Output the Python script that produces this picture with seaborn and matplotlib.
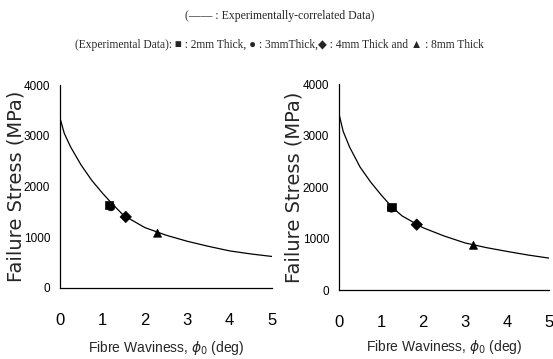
import matplotlib.pyplot as plt
import seaborn as sns
import pandas as pd

# correlated curves
curve_x = [0, 0.1, 0.25, 0.5, 0.75, 1.0, 1.25, 1.5, 2.0, 2.5, 3.0, 3.5, 4.0, 4.5, 5.0]
curve_left = [3350, 3050, 2780, 2420, 2120, 1870, 1640, 1430, 1190, 1040, 920, 820, 730, 670, 620]
curve_right = [3420, 3080, 2780, 2390, 2100, 1850, 1620, 1440, 1210, 1050, 915, 825, 750, 680, 620]

# experimental points
thickness = ['2mm', '3mm', '4mm', '8mm']
pts_left_x = [1.15, 1.2, 1.55, 2.3]
pts_left_y = [1630, 1600, 1400, 1080]
pts_right_x = [1.25, 1.25, 1.85, 3.2]
pts_right_y = [1610, 1590, 1270, 870]

marker_map = {'2mm': 's', '3mm': 'o', '4mm': 'D', '8mm': '^'}

sns.set_style('white')
plt.rcParams['font.family'] = ['Liberation Sans', 'DejaVu Sans']

fig = plt.figure(figsize=(5.53, 3.59), dpi=100)
ax1 = fig.add_axes([0.1085, 0.198, 0.3835, 0.565])
ax2 = fig.add_axes([0.613, 0.192, 0.380, 0.574])

for ax, cy, px, py in [(ax1, curve_left, pts_left_x, pts_left_y),
                       (ax2, curve_right, pts_right_x, pts_right_y)]:
    sns.lineplot(x=curve_x, y=cy, ax=ax, color='black', lw=0.9)
    df = pd.DataFrame({'x': px, 'y': py, 't': thickness})
    sns.scatterplot(data=df, x='x', y='y', style='t', markers=marker_map,
                    color='black', s=34, edgecolor='black', ax=ax, legend=False, zorder=3)
    ax.set_xlim(0, 5)
    ax.set_ylim(0, 4000)
    ax.set_xticks([0, 1, 2, 3, 4, 5])
    ax.set_yticks([0, 1000, 2000, 3000, 4000])
    sns.despine(ax=ax)
    for s in ['left', 'bottom']:
        ax.spines[s].set_color('black')
        ax.spines[s].set_linewidth(0.9)
    ax.tick_params(axis='x', direction='out', length=4, width=0.8, labelsize=12, pad=14, colors='black')
    ax.tick_params(axis='y', direction='out', length=4, width=0.8, labelsize=8.5, pad=3, colors='black')
    ax.set_xlabel('Fibre Waviness, $\\phi_0$ (deg)', fontsize=10)
    ax.set_ylabel('Failure Stress (MPa)', fontsize=14, family='DejaVu Sans')

ax1.xaxis.set_label_coords(0.5, -0.25)
ax2.xaxis.set_label_coords(0.5, -0.235)
ax1.yaxis.set_label_coords(-0.165, 0.5)
ax2.yaxis.set_label_coords(-0.17, 0.5)

fig.text(0.505, 0.955, '(\u2014\u2014 : Experimentally-correlated Data)',
         ha='center', va='center', fontsize=8.5, family='Liberation Serif')
fig.text(0.505, 0.875, '(Experimental Data): \u25a0 : 2mm Thick, \u25cf : 3mmThick,\u25c6 : 4mm Thick and \u25b2 : 8mm Thick',
         ha='center', va='center', fontsize=8.3, family=['Liberation Serif', 'DejaVu Sans'])

fig.savefig('out.png', dpi=100)
